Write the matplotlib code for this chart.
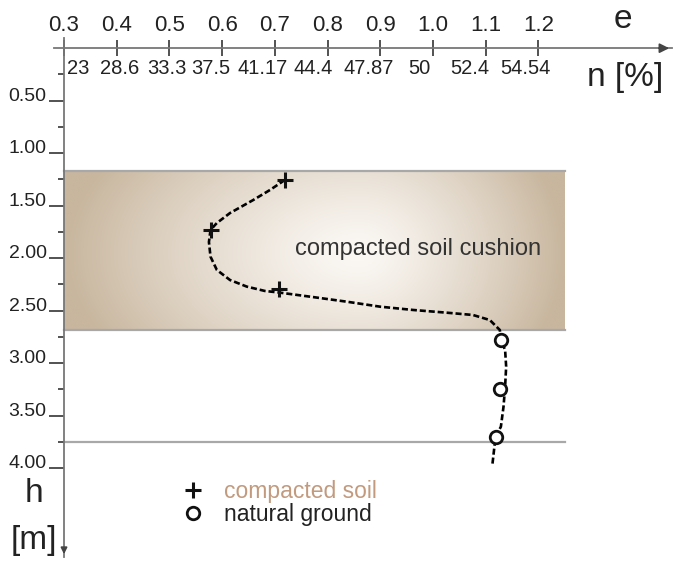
import matplotlib
matplotlib.use("Agg")
import matplotlib.pyplot as plt
import numpy as np
from matplotlib.lines import Line2D

plt.rcParams['font.family'] = ['Liberation Sans', 'DejaVu Sans']

# axis ticks / labels
e_ticks = [0.3, 0.4, 0.5, 0.6, 0.7, 0.8, 0.9, 1.0, 1.1, 1.2]
e_labels = ['0.3', '0.4', '0.5', '0.6', '0.7', '0.8', '0.9', '1.0', '1.1', '1.2']
n_labels = ['23', '28.6', '33.3', '37.5', '41.17', '44.4', '47.87', '50', '52.4', '54.54']
h_ticks = [0.5, 1.0, 1.5, 2.0, 2.5, 3.0, 3.5, 4.0]
h_minor = [0.25, 0.75, 1.25, 1.75, 2.25, 2.75, 3.25, 3.75]

# layers (depth in m)
cushion_top = 1.17
cushion_bottom = 2.684
lower_line = 3.75
layer_right = 1.25

# measured points
comp_e = [0.719, 0.578, 0.708]
comp_h = [1.257, 1.731, 2.289]
nat_e = [1.129, 1.128, 1.119]
nat_h = [2.78, 3.246, 3.70]

# hand drawn trend line through the points
trend_e = [0.719, 0.691, 0.659, 0.615, 0.590, 0.578, 0.575, 0.578, 0.590, 0.615,
           0.647, 0.681, 0.708, 0.772, 0.836, 0.900, 0.962, 1.026, 1.076, 1.108,
           1.127, 1.129, 1.137, 1.139, 1.137, 1.134, 1.129, 1.119, 1.116, 1.113]
trend_h = [1.255, 1.350, 1.446, 1.570, 1.665, 1.731, 1.846, 1.986, 2.112, 2.208,
           2.271, 2.312, 2.327, 2.370, 2.414, 2.462, 2.493, 2.519, 2.541, 2.589,
           2.684, 2.779, 2.874, 3.033, 3.224, 3.414, 3.605, 3.700, 3.827, 3.960]

# small horizontal nudges of the n labels (points), as in the original drawing
n_nudge = [2, 2, -1.5, -8, -8.5, -10, -8.5, -10, -11.5, -9.5]

W, H = 676, 561
fig = plt.figure(figsize=(W / 100, H / 100), dpi=100)
ax = fig.add_axes([54 / W, (H - 557) / H, (672 - 54) / W, (557 - 38) / H])

xmin, xmax = 0.281, 1.4537
hmin, hmax = -0.0971, 4.846

# cushion band with soft radial shading
ge = np.linspace(0.3, layer_right, 300)
gh = np.linspace(cushion_top, cushion_bottom, 120)
E, Hh = np.meshgrid(ge, gh)
ec, hc = 0.86, 1.95
tx = np.where(E < ec, (ec - E) / (ec - 0.3), (E - ec) / (layer_right - ec))
ty = (Hh - hc) / (cushion_bottom - cushion_top)
t = np.clip(np.sqrt(tx ** 2 + (0.9 * ty) ** 2), 0, 1) ** 1.3
light = np.array([251, 248, 244]) / 255
dark = np.array([200, 182, 158]) / 255
img = light[None, None, :] * (1 - t[..., None]) + dark[None, None, :] * t[..., None]
ax.imshow(img, extent=(0.3, layer_right, cushion_bottom, cushion_top),
          origin='upper', aspect='auto', zorder=0, interpolation='bilinear')

for y in (cushion_top, cushion_bottom, lower_line):
    ax.plot([0.3, layer_right], [y, y], color='#a8a8a8', lw=1.6, zorder=1)

ax.plot(trend_e, trend_h, color='black', lw=1.9, ls=(0, (2.3, 1.1)), zorder=2)
ax.plot(comp_e, comp_h, ls='none', marker='+', ms=12, mew=2.2, color='#111', zorder=3)
ax.plot(nat_e, nat_h, ls='none', marker='o', ms=9, mew=2.0, mfc='white',
        mec='#111', zorder=3)

ax.text(0.971, 1.97, 'compacted soil cushion', ha='center', va='baseline',
        fontsize=17, color='#333333')

ax.set_xlim(xmin, xmax)
ax.set_ylim(hmax, hmin)

for side in ('bottom', 'right'):
    ax.spines[side].set_visible(False)
ax.spines['top'].set_position(('data', 0))
ax.spines['top'].set_bounds(xmin, xmax)
ax.spines['left'].set_position(('data', 0.3))
ax.spines['left'].set_bounds(hmin, hmax)
for side in ('top', 'left'):
    ax.spines[side].set_color('#777777')
    ax.spines[side].set_linewidth(1.3)

ax.xaxis.set_ticks_position('top')
ax.set_xticks(e_ticks)
ax.set_xticklabels(e_labels)
ax.tick_params(axis='x', direction='inout', length=11, width=1.3, color='#444',
               labelsize=16, pad=3.5, labelcolor='#222')

ax.set_yticks(h_ticks)
ax.set_yticklabels(['%.2f' % v for v in h_ticks])
ax.set_yticks(h_minor, minor=True)
ax.tick_params(axis='y', which='major', direction='out', length=11, width=1.3,
               color='#444', labelsize=14, pad=1.5, labelcolor='#222')
ax.tick_params(axis='y', which='minor', direction='out', length=4.5, width=1.3,
               color='#444')
for lab in ax.get_yticklabels():
    lab.set_verticalalignment('baseline')

# arrows at the axis ends
ax.annotate('', xy=(xmax, 0), xytext=(xmax - 0.03, 0),
            arrowprops=dict(arrowstyle='-|>', color='#444', lw=1.3, mutation_scale=14),
            annotation_clip=False)
ax.annotate('', xy=(0.3, hmax), xytext=(0.3, hmax - 0.1),
            arrowprops=dict(arrowstyle='-|>', color='#444', lw=1.3, mutation_scale=9),
            annotation_clip=False)

# porosity labels under the void ratio axis
for i, (ev, lab, dx) in enumerate(zip(e_ticks, n_labels, n_nudge)):
    ax.annotate(lab, xy=(ev, 0), xytext=(dx, -18.5), textcoords='offset points',
                ha='left' if i == 0 else 'center', va='baseline',
                fontsize=14.5, color='#222')

ax.text(1.361, -0.188, 'e', ha='center', va='baseline', fontsize=24, color='#222')
ax.text(1.365, 0.36, 'n [%]', ha='center', va='baseline', fontsize=24, color='#222')
ax.text(0.243, 4.322, 'h', ha='center', va='baseline', fontsize=24, color='#222')
ax.text(0.243, 4.77, '[m]', ha='center', va='baseline', fontsize=24, color='#222')

handles = [Line2D([], [], ls='none', marker='+', ms=12, mew=2.2, color='#111'),
           Line2D([], [], ls='none', marker='o', ms=9, mew=2.0, mfc='white', mec='#111')]
fig.legend(handles, ['compacted soil', 'natural ground'], loc='upper left',
           bbox_to_anchor=(182 / W, 1 - 480 / H), frameon=False, fontsize=16.5,
           handlelength=1.0, handletextpad=0.85, labelspacing=0.0, borderpad=0,
           borderaxespad=0, labelcolor=['#c29a7e', '#222222'])

fig.savefig('out.png', dpi=100)
